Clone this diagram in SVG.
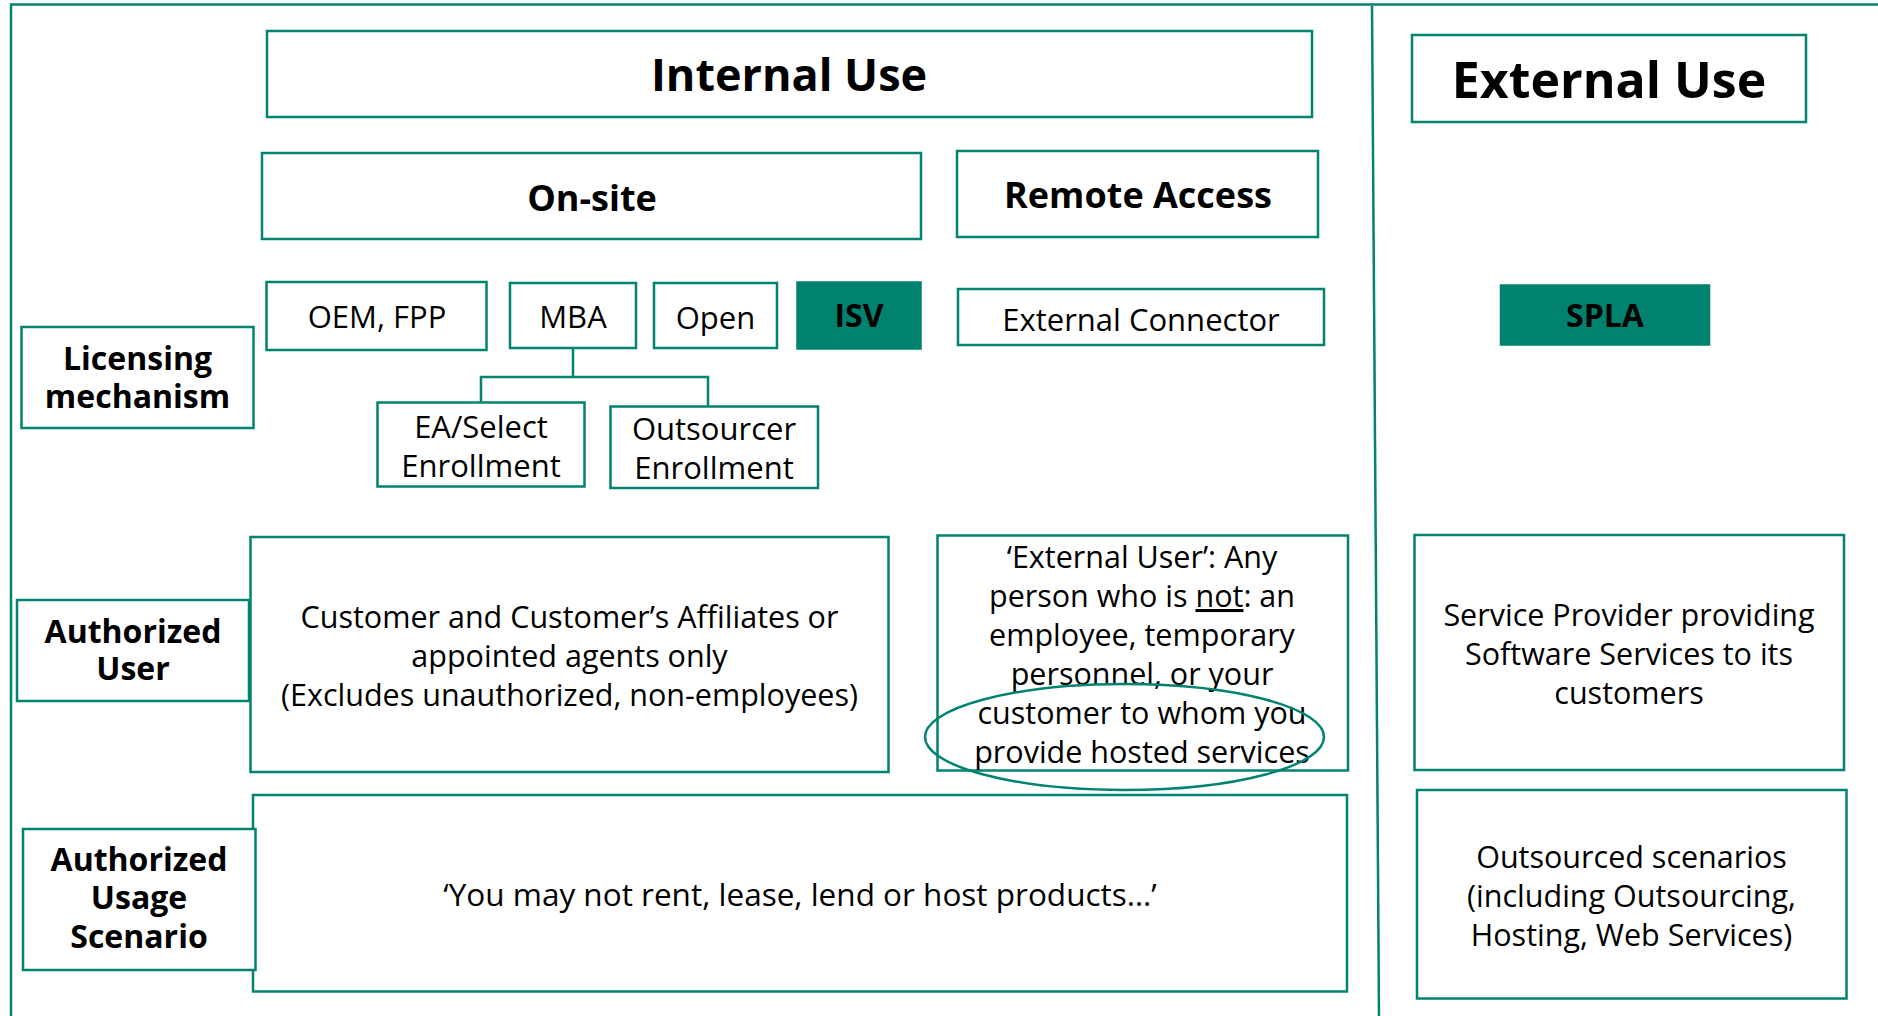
<svg xmlns="http://www.w3.org/2000/svg" width="1878" height="1016" viewBox="0 0 1878 1016">
<style>
.box{fill:#ffffff;stroke:#00836F;stroke-width:2.5}
.fill{fill:#00826F;stroke:#00826F;stroke-width:1.5}
.line{fill:none;stroke:#00836F;stroke-width:2.5}
text{font-family:"Open Sans","Liberation Sans",sans-serif;fill:#000;text-anchor:middle}
.h1{font-size:45px;font-weight:700}
.h2{font-size:36px;font-weight:700}
.lb{font-size:32px;font-weight:700}
.t{font-size:31px;font-weight:400}
.b{font-size:30.5px;font-weight:400}
</style>
<rect width="1878" height="1016" fill="#ffffff"/>
<g id="frame">
<path class="line" d="M11 1016 V4.5 H1878"/>
<path class="line" d="M1372 6 L1379 1016"/>
</g>
<g id="connectors">
<path class="line" d="M573 348 V377"/>
<path class="line" d="M481 402 V377 H708 V406"/>
</g>
<g id="internal-use"><rect class="box" x="267" y="31" width="1045" height="86"/><text class="h1" x="789" y="91">Internal Use</text></g>
<g id="external-use"><rect class="box" x="1412" y="35" width="394" height="87"/><text class="h1" x="1609" y="98" style="font-size:50px">External Use</text></g>
<g id="on-site"><rect class="box" x="262" y="153" width="659" height="86"/><text class="h2" x="592" y="211">On-site</text></g>
<g id="remote-access"><rect class="box" x="957" y="151" width="361" height="86"/><text class="h2" x="1138" y="208">Remote Access</text></g>
<g id="oem-fpp"><rect class="box" x="266.5" y="282" width="220" height="68"/><text class="t" x="377" y="328">OEM, FPP</text></g>
<g id="mba"><rect class="box" x="510" y="283" width="126" height="65"/><text class="t" x="573" y="328">MBA</text></g>
<g id="open"><rect class="box" x="654" y="283" width="123" height="65"/><text class="t" x="715.5" y="329">Open</text></g>
<g id="isv"><rect class="fill" x="797" y="282" width="124" height="67"/><text class="lb" x="859" y="327">ISV</text></g>
<g id="external-connector"><rect class="box" x="958" y="289" width="366" height="56"/><text class="t" x="1141" y="331">External Connector</text></g>
<g id="spla"><rect class="fill" x="1500.5" y="285" width="209" height="60"/><text class="lb" x="1605" y="327">SPLA</text></g>
<g id="licensing-mechanism"><rect class="box" x="21.5" y="327" width="232" height="101"/><text class="lb" x="137.5" y="370">Licensing</text><text class="lb" x="137.5" y="408">mechanism</text></g>
<g id="ea-select"><rect class="box" x="377.5" y="402.5" width="207" height="84"/><text class="t" x="481" y="438">EA/Select</text><text class="t" x="481" y="477">Enrollment</text></g>
<g id="outsourcer"><rect class="box" x="610.5" y="406.5" width="207.5" height="81.5"/><text class="t" x="714" y="440">Outsourcer</text><text class="t" x="714" y="479">Enrollment</text></g>
<g id="authorized-user"><rect class="box" x="17" y="600" width="232" height="101"/><text class="lb" x="133" y="643">Authorized</text><text class="lb" x="133" y="680">User</text></g>
<g id="customer"><rect class="box" x="250.5" y="537" width="638" height="235"/><text class="b" x="569.5" y="628">Customer and Customer’s Affiliates or</text><text class="b" x="569.5" y="667">appointed agents only</text><text class="b" x="569.5" y="706">(Excludes unauthorized, non-employees)</text></g>
<g id="external-user"><rect class="box" x="937.5" y="535.5" width="410.5" height="235"/>
<text class="b" x="1142" y="568">‘External User’: Any</text>
<text class="b" x="1142" y="607">person who is <tspan text-decoration="underline">not</tspan>: an</text>
<text class="b" x="1142" y="646">employee, temporary</text>
<text class="b" x="1142" y="685">personnel, or your</text>
<text class="b" x="1142" y="724">customer to whom you</text>
<text class="b" x="1142" y="763">provide hosted services</text>
</g>
<g id="highlight"><ellipse class="line" cx="1124.5" cy="737" rx="199.5" ry="53"/></g>
<g id="service-provider"><rect class="box" x="1414.5" y="535" width="429.5" height="235"/><text class="b" x="1629" y="626">Service Provider providing</text><text class="b" x="1629" y="665">Software Services to its</text><text class="b" x="1629" y="704">customers</text></g>
<g id="usage-internal"><rect class="box" x="253" y="795" width="1094" height="196.5"/><text class="b" x="800" y="906" style="font-size:31.5px">‘You may not rent, lease, lend or host products…’</text></g>
<g id="authorized-usage"><rect class="box" x="23" y="829" width="232.5" height="141"/><text class="lb" x="139" y="871">Authorized</text><text class="lb" x="139" y="909">Usage</text><text class="lb" x="139" y="948">Scenario</text></g>
<g id="outsourced"><rect class="box" x="1417" y="790" width="429.5" height="208.5"/><text class="b" x="1631.5" y="868">Outsourced scenarios</text><text class="b" x="1631.5" y="907">(including Outsourcing,</text><text class="b" x="1631.5" y="946">Hosting, Web Services)</text></g>
</svg>
